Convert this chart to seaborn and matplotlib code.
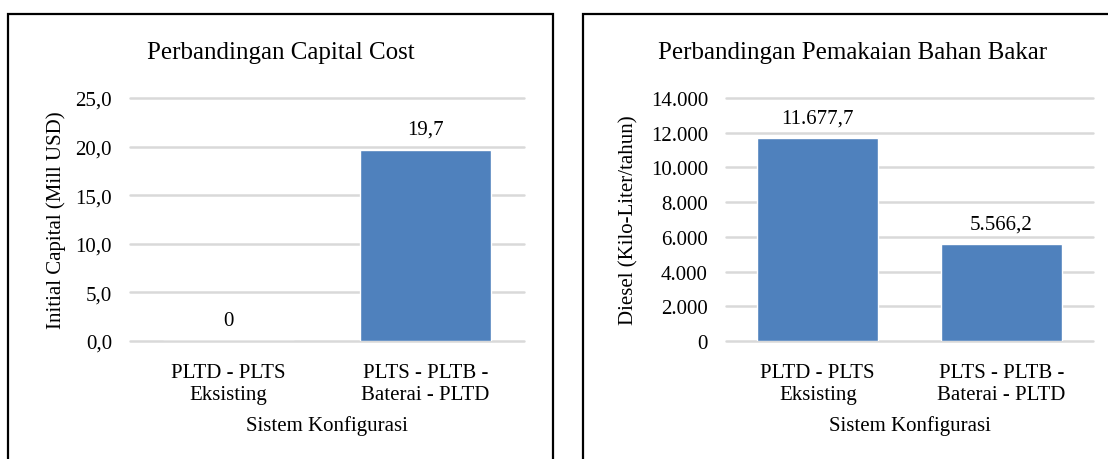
import matplotlib
matplotlib.use("Agg")
import matplotlib.pyplot as plt
import seaborn as sns
import pandas as pd
from matplotlib.patches import Rectangle
from matplotlib.ticker import FuncFormatter

# Data
categories = ["PLTD - PLTS\nEksisting", "PLTS - PLTB -\nBaterai - PLTD"]
capital_cost = [0.0, 19.7]          # Mill USD
capital_labels = ["0", "19,7"]
fuel_use = [11677.7, 5566.2]        # Kilo-Liter/tahun
fuel_labels = ["11.677,7", "5.566,2"]
capital_ticks = [0, 5, 10, 15, 20, 25]
fuel_ticks = [0, 2000, 4000, 6000, 8000, 10000, 12000, 14000]

sns.set_theme(style="white")
plt.rcParams["font.family"] = ["Liberation Serif", "DejaVu Serif"]
plt.rcParams["text.color"] = "black"
plt.rcParams["axes.labelcolor"] = "black"

BAR = "#4F81BD"
GRID = "#D9D9D9"
W, H = 1108, 460
FS = 15

fig = plt.figure(figsize=(W / 100, H / 100), dpi=100)


def fx(px):
    return px / W


def fy(px):
    return 1 - px / H


# Panel frames
for x0, x1 in [(8, 553), (583, 1120)]:
    fig.patches.append(Rectangle((fx(x0), fy(470)), fx(x1 - x0), (470 - 15) / H,
                                 transform=fig.transFigure, fill=False,
                                 edgecolor="#000000", linewidth=1.6, zorder=0))


def comma_dec(v, _pos=None):
    return f"{v:.1f}".replace(".", ",")


def thousands(v, _pos=None):
    return f"{int(round(v)):,}".replace(",", ".")


def draw_panel(left, right, top, bottom, values, labels, ticks, fmt, ylabel,
               title, title_x, ylabel_x, ypad):
    ax = fig.add_axes([fx(left), fy(bottom), fx(right - left), (bottom - top) / H])
    df = pd.DataFrame({"cat": categories, "val": values})
    sns.barplot(data=df, x="cat", y="val", color=BAR, saturation=1, width=0.66,
                ax=ax, zorder=3)
    ax.set_xlim(-0.5, 1.5)
    ax.set_ylim(ticks[0], ticks[-1])
    ax.set_yticks(ticks)
    ax.yaxis.set_major_formatter(FuncFormatter(fmt))
    ax.grid(axis="y", color=GRID, linewidth=1.8, zorder=0)
    ax.grid(axis="x", visible=False)
    for gl in ax.get_ygridlines():
        gl.set_clip_on(False)
    for s in ax.spines.values():
        s.set_visible(False)
    ax.tick_params(axis="both", length=0, labelsize=FS, colors="black")
    ax.tick_params(axis="y", pad=ypad)
    ax.tick_params(axis="x", pad=16)
    for lbl in ax.get_xticklabels():
        lbl.set_linespacing(1.2)
    ax.set_xlabel("Sistem Konfigurasi", fontsize=FS, labelpad=8, color="black")
    ax.set_ylabel("")
    fig.text(fx(ylabel_x), fy((top + bottom) / 2), ylabel, rotation=90,
             ha="center", va="center", fontsize=FS)
    fig.text(fx(title_x), fy(53), title, ha="center", va="center", fontsize=18)
    for i, (v, t) in enumerate(zip(values, labels)):
        ax.annotate(t, (i, v), xytext=(0, 8), textcoords="offset points",
                    ha="center", va="bottom", fontsize=FS)
    return ax


draw_panel(130, 524, 99, 342, capital_cost, capital_labels, capital_ticks,
           comma_dec, "Initial Capital (Mill USD)", "Perbandingan Capital Cost",
           281, 56, 13)
draw_panel(726, 1093, 99, 342, fuel_use, fuel_labels, fuel_ticks,
           thousands, "Diesel (Kilo-Liter/tahun)",
           "Perbandingan Pemakaian Bahan Bakar", 853, 629, 13)

fig.savefig("out.png", dpi=100)
